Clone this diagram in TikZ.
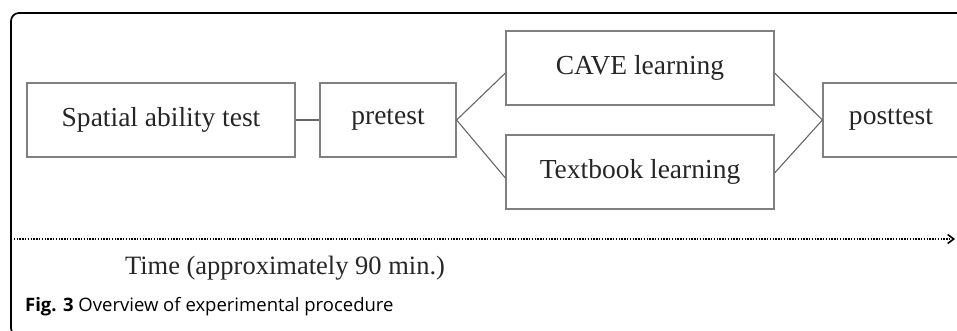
\documentclass[tikz,border=0pt]{standalone}
\usepackage{fontspec}
\setmainfont{Liberation Serif}
\newfontfamily\capfont{Open Sans}
\usepackage{tikz}
\usetikzlibrary{arrows.meta,positioning}

\tikzset{
  phase/.style={draw=black!50,line width=1.2pt,minimum height=74pt,inner sep=0pt,
    text=black!85,font=\fontsize{27.5}{30}\selectfont},
  link/.style={draw=black!60,line width=1.1pt}
}

\begin{document}
\begin{tikzpicture}[x=1pt,y=-1pt]
%Seite wie im Original
\useasboundingbox (0,0) rectangle (957,330);
%Rahmen, rechts und unten abgeschnitten
\draw[line width=1.7pt,rounded corners=8pt] (975,13) -- (11,13) -- (11,336) -- (40,336);

\node[phase,minimum width=268pt] (spatial) at (161,120) {Spatial ability test};
\node[phase,minimum width=136pt] (pretest) at (388,120) {pretest};
\node[phase,minimum width=268pt] (cave) at (640,68) {CAVE learning};
\node[phase,minimum width=268pt] (textbook) at (640,172) {Textbook learning};
\node[phase,minimum width=136pt] (posttest) at (891,120) {posttest};

\draw[link] (spatial) -- (pretest);
\draw[link] ([yshift=-5pt]cave.west) -- (pretest.east) -- ([yshift=-6pt]textbook.west);
\draw[link] ([yshift=-5pt]cave.east) -- (posttest.west) -- ([yshift=-1pt]textbook.east);

%Zeitachse
\coordinate (t0) at (11,239);
\coordinate (t1) at (955,239);
\draw[line width=1.6pt,dash pattern=on 1.4pt off 1.4pt,-{Straight Barb[length=6pt,width=9pt]}] (t0) -- (t1);
\node[font=\fontsize{26.5}{29}\selectfont,text=black!85] (time) at (285,268) {Time (approximately 90 min.)};

\node[font=\capfont\fontsize{18.5}{21}\selectfont,anchor=west,inner sep=0pt] (caption) at (25,307) {\textbf{Fig. 3} Overview of experimental procedure};
\end{tikzpicture}
\end{document}
